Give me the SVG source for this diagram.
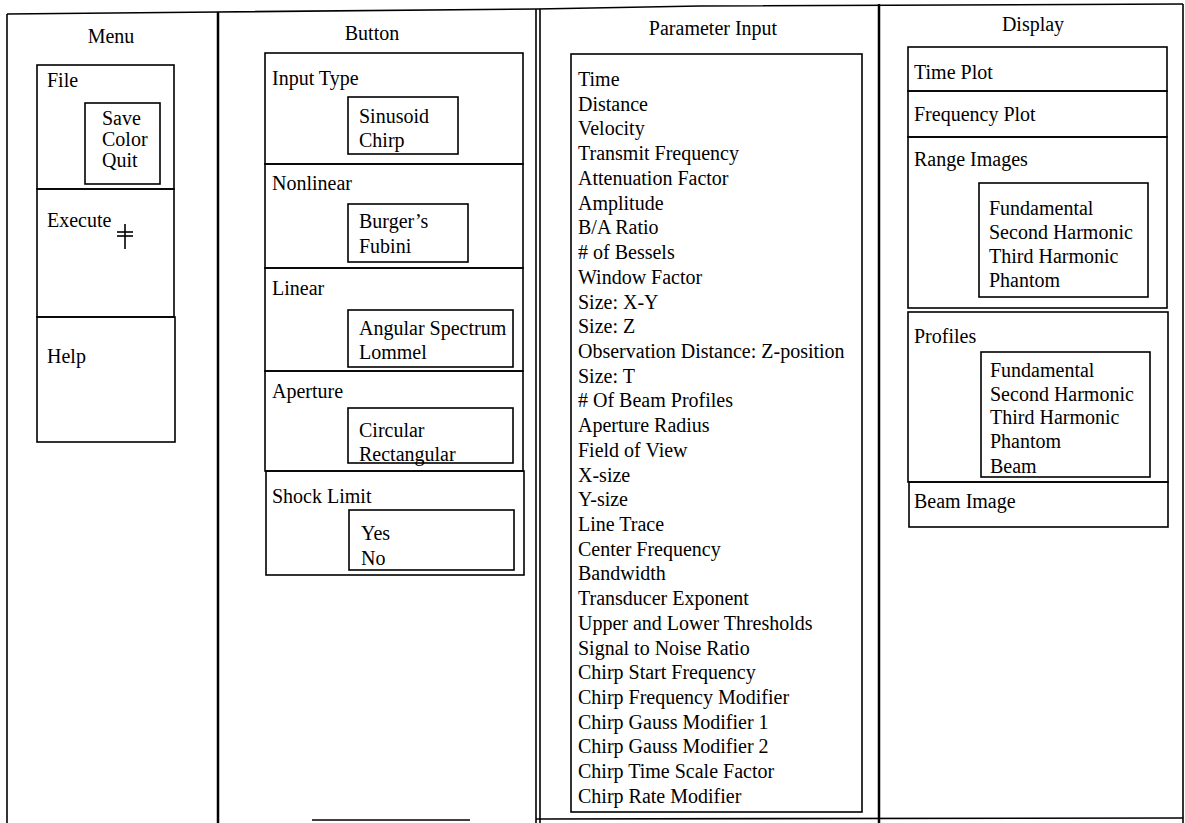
<svg xmlns="http://www.w3.org/2000/svg" width="1185" height="823" viewBox="0 0 1185 823">
<style>
text{font-family:"Liberation Serif","Times New Roman",serif;font-size:20px;fill:#000}
.t{text-anchor:middle}
.b{fill:none;stroke:#000;stroke-width:1.6}
.col{fill:none;stroke:#000;stroke-width:2.5}
.fr{fill:none;stroke:#000;stroke-width:1.6}
</style>
<rect width="1185" height="823" fill="#fff"/>
<g id="frame">
<polyline class="fr" points="7,14 218,12 537,9 700,6 1183,4"/>
<line class="fr" x1="7" y1="14" x2="7" y2="823"/>
<line class="col" x1="218" y1="12" x2="218" y2="823"/>
<line class="fr" x1="536" y1="9" x2="536" y2="823"/>
<line class="fr" x1="540" y1="9" x2="540" y2="823"/>
<line class="col" x1="879" y1="4" x2="879" y2="823"/>
<line class="fr" x1="1183" y1="4" x2="1183" y2="823"/>
<line class="fr" x1="312" y1="820" x2="470" y2="820"/>
<line class="fr" x1="536" y1="819" x2="1183" y2="818"/>
</g>
<g id="menu">
<text class="t" x="111" y="43">Menu</text>
<g id="menu-file">
<rect class="b" x="37" y="65" width="137" height="124"/>
<text x="47" y="87">File</text>
<rect class="b" x="85" y="103" width="75" height="81"/>
<text x="102" y="125">Save</text>
<text x="102" y="146">Color</text>
<text x="102" y="167">Quit</text>
</g>
<g id="menu-execute">
<rect class="b" x="37" y="189" width="137" height="128"/>
<text x="47" y="227">Execute</text>
<line class="b" x1="125" y1="224" x2="125" y2="249"/>
<line class="b" x1="117" y1="232" x2="133" y2="232"/>
<line class="b" x1="117" y1="236" x2="133" y2="236"/>
</g>
<g id="menu-help">
<rect class="b" x="37" y="317" width="138" height="125"/>
<text x="47" y="363">Help</text>
</g>
</g>
<g id="button">
<text class="t" x="372" y="40">Button</text>
<g id="btn-input-type">
<rect class="b" x="265" y="53" width="258" height="111"/>
<text x="272" y="85">Input Type</text>
<rect class="b" x="348" y="97" width="110" height="57"/>
<text x="359" y="123">Sinusoid</text>
<text x="359" y="147">Chirp</text>
</g>
<g id="btn-nonlinear">
<rect class="b" x="265" y="164" width="258" height="104"/>
<text x="272" y="190">Nonlinear</text>
<rect class="b" x="348" y="204" width="120" height="58"/>
<text x="359" y="228">Burger’s</text>
<text x="359" y="253">Fubini</text>
</g>
<g id="btn-linear">
<rect class="b" x="265" y="268" width="258" height="103"/>
<text x="272" y="295">Linear</text>
<rect class="b" x="348" y="310" width="165" height="57"/>
<text x="359" y="335">Angular Spectrum</text>
<text x="359" y="359">Lommel</text>
</g>
<g id="btn-aperture">
<rect class="b" x="265" y="371" width="258" height="100"/>
<text x="272" y="398">Aperture</text>
<rect class="b" x="348" y="408" width="165" height="55"/>
<text x="359" y="437">Circular</text>
<text x="359" y="461">Rectangular</text>
</g>
<g id="btn-shock-limit">
<rect class="b" x="266" y="471" width="258" height="104"/>
<text x="272" y="503">Shock Limit</text>
<rect class="b" x="349" y="510" width="165" height="60"/>
<text x="361" y="540">Yes</text>
<text x="361" y="565">No</text>
</g>
</g>
<g id="parameter-input">
<text class="t" x="713" y="35">Parameter Input</text>
<rect class="b" x="571" y="54" width="291" height="758"/>
<g transform="translate(0,3)">
<text x="578" y="83">Time</text>
<text x="578" y="107.7">Distance</text>
<text x="578" y="132.4">Velocity</text>
<text x="578" y="157.2">Transmit Frequency</text>
<text x="578" y="181.9">Attenuation Factor</text>
<text x="578" y="206.6">Amplitude</text>
<text x="578" y="231.3">B/A Ratio</text>
<text x="578" y="256.0"># of Bessels</text>
<text x="578" y="280.8">Window Factor</text>
<text x="578" y="305.5">Size: X-Y</text>
<text x="578" y="330.2">Size: Z</text>
<text x="578" y="354.9">Observation Distance: Z-position</text>
<text x="578" y="379.6">Size: T</text>
<text x="578" y="404.4"># Of Beam Profiles</text>
<text x="578" y="429.1">Aperture Radius</text>
<text x="578" y="453.8">Field of View</text>
<text x="578" y="478.5">X-size</text>
<text x="578" y="503.2">Y-size</text>
<text x="578" y="528.0">Line Trace</text>
<text x="578" y="552.7">Center Frequency</text>
<text x="578" y="577.4">Bandwidth</text>
<text x="578" y="602.1">Transducer Exponent</text>
<text x="578" y="626.8">Upper and Lower Thresholds</text>
<text x="578" y="651.6">Signal to Noise Ratio</text>
<text x="578" y="676.3">Chirp Start Frequency</text>
<text x="578" y="701.0">Chirp Frequency Modifier</text>
<text x="578" y="725.7">Chirp Gauss Modifier 1</text>
<text x="578" y="750.4">Chirp Gauss Modifier 2</text>
<text x="578" y="775.2">Chirp Time Scale Factor</text>
<text x="578" y="799.9">Chirp Rate Modifier</text>
</g>
</g>
<g id="display">
<text class="t" x="1033" y="31">Display</text>
<g id="disp-time-plot">
<rect class="b" x="908" y="47" width="259" height="44"/>
<text x="914" y="79">Time Plot</text>
</g>
<g id="disp-frequency-plot">
<rect class="b" x="908" y="91" width="259" height="46"/>
<text x="914" y="121">Frequency Plot</text>
</g>
<g id="disp-range-images">
<rect class="b" x="908" y="137" width="259" height="171"/>
<text x="914" y="166">Range Images</text>
<rect class="b" x="979" y="183" width="169" height="114"/>
<text x="989" y="215">Fundamental</text>
<text x="989" y="239">Second Harmonic</text>
<text x="989" y="263">Third Harmonic</text>
<text x="989" y="287">Phantom</text>
</g>
<g id="disp-profiles">
<rect class="b" x="908" y="312" width="260" height="170"/>
<text x="914" y="343">Profiles</text>
<rect class="b" x="981" y="352" width="169" height="125"/>
<text x="990" y="377">Fundamental</text>
<text x="990" y="401">Second Harmonic</text>
<text x="990" y="424">Third Harmonic</text>
<text x="990" y="448">Phantom</text>
<text x="990" y="473">Beam</text>
</g>
<g id="disp-beam-image">
<rect class="b" x="909" y="482" width="259" height="45"/>
<text x="914" y="508">Beam Image</text>
</g>
</g>
</svg>
